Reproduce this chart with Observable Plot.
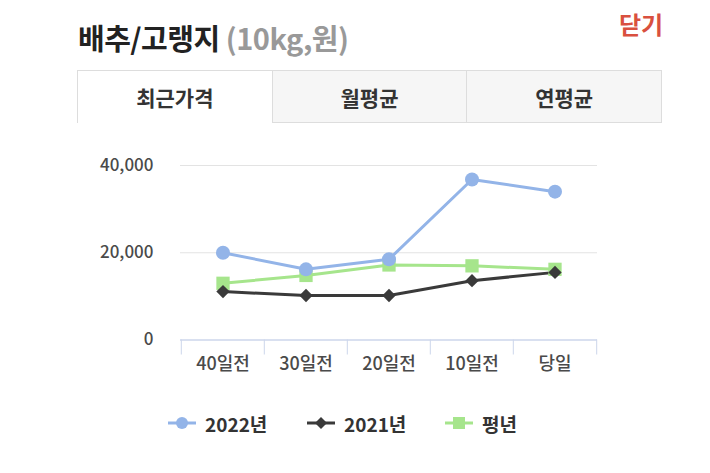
<!DOCTYPE html>
<html><head><meta charset="utf-8">
<script src="https://cdn.jsdelivr.net/npm/d3@7"></script>
<script src="https://cdn.jsdelivr.net/npm/@observablehq/plot@0.6"></script>
<style>
body{margin:0;background:#fff;font-family:"Noto Sans CJK KR","Noto Sans",sans-serif;}
#wrap{position:relative;width:710px;height:473px;overflow:hidden;}
#title{position:absolute;left:78px;top:17px;font-size:29px;line-height:40px;font-weight:700;color:#222;letter-spacing:-0.5px;}
#title span{color:#999;font-weight:700;}
#close{position:absolute;left:619px;top:6px;font-size:24px;line-height:36px;font-weight:700;color:#d9503f;}
#tabs{position:absolute;left:77px;top:70px;width:585px;height:52px;display:flex;border-top:1px solid #ddd;}
.tab{flex:1;display:flex;align-items:center;justify-content:center;font-size:21px;font-weight:700;color:#333;background:#f6f6f6;border-right:1px solid #ddd;border-bottom:1px solid #ddd;}
.tab.on{background:#fff;border-bottom:none;border-left:1px solid #ddd;}
#chart{position:absolute;left:0;top:130px;}
#legend{position:absolute;left:0;top:408px;width:710px;height:30px;}
.li{position:absolute;top:0;display:flex;align-items:center;height:30px;font-size:19px;font-weight:700;color:#333;}
.li svg{margin-right:9px;}
</style></head>
<body><div id="wrap">
<div id="title">배추/고랭지 <span>(10kg,원)</span></div>
<div id="close">닫기</div>
<div id="tabs"><div class="tab on">최근가격</div><div class="tab">월평균</div><div class="tab">연평균</div></div>
<div id="chart"></div>
<div id="legend"></div>
</div>
<script>
const categories = ["40일전","30일전","20일전","10일전","당일"];
const series = ["2022년","2021년","평년"];
const v2022 = [20000,16200,18500,36800,34000];
const v2021 = [11100,10200,10200,13600,15500];
const vNormal = [13000,14800,17200,17000,16200];
const yTicks = [0,20000,40000];
const colors = {"2022년":"#93b4e8","2021년":"#3a3a3a","평년":"#a6e58c"};
const symbols = {"2022년":"circle","2021년":"diamond2","평년":"square"};

const rows = [];
[v2022,v2021,vNormal].forEach((vals,si)=>vals.forEach((v,i)=>rows.push({cat:categories[i],series:series[si],value:v})));

const W=710,H=250,ML=180,MR=113;
const half=(W-ML-MR)/categories.length/2;
const plot = Plot.plot({
  width:W,height:H,marginLeft:ML,marginRight:MR,marginTop:35,marginBottom:40.5,
  style:{fontFamily:"'Noto Sans CJK KR','Noto Sans',sans-serif",fontSize:"17px",fontWeight:500,color:"#444",background:"transparent"},
  x:{type:"band",domain:categories,padding:0,label:null},
  y:{domain:[0,40000],label:null},
  marks:[
    Plot.gridY(yTicks.filter(d=>d>0),{stroke:"#e3e3e3",strokeOpacity:1,strokeWidth:1.2}),
    Plot.axisY(yTicks,{tickSize:0,tickPadding:27,tickFormat:d3.format(","),fontSize:17,fill:"#4a4a4a",label:null}),
    Plot.axisX({tickSize:0,tickPadding:17,fontSize:18,fill:"#4a4a4a",label:null}),
    Plot.axisX(categories,{tickSize:15,tickFormat:()=>"",stroke:"#ccd6eb",strokeOpacity:1,dx:-half,label:null}),
    Plot.axisX(categories.slice(-1),{tickSize:15,tickFormat:()=>"",stroke:"#ccd6eb",strokeOpacity:1,dx:half,label:null}),
    Plot.ruleY([0],{stroke:"#ccd6eb",strokeWidth:1.5}),
    ...["평년","2021년","2022년"].map(s=>Plot.line(rows.filter(r=>r.series===s),{x:"cat",y:"value",stroke:colors[s],strokeWidth:3})),
    ...["평년","2021년","2022년"].map(s=>Plot.dot(rows.filter(r=>r.series===s),{x:"cat",y:"value",fill:colors[s],stroke:"none",symbol:symbols[s],r:s==="평년"?7.5:(s==="2021년"?6:7)}))
  ]
});
document.getElementById("chart").appendChild(plot);

// legend
const leg = document.getElementById("legend");
const lx = {"2022년":168,"2021년":307,"평년":445};
series.forEach(s=>{
  const d=document.createElement("div");d.className="li";d.style.left=lx[s]+"px";
  const sym = symbols[s];
  let m="";
  if(sym==="circle") m=`<circle cx="14" cy="15" r="6" fill="${colors[s]}"/>`;
  else if(sym==="diamond2") m=`<path d="M14,9L20,15L14,21L8,15Z" fill="${colors[s]}"/>`;
  else m=`<rect x="8" y="9" width="12" height="12" fill="${colors[s]}"/>`;
  d.innerHTML=`<svg width="28" height="30"><line x1="0" x2="28" y1="15" y2="15" stroke="${colors[s]}" stroke-width="3"/>${m}</svg>${s}`;
  leg.appendChild(d);
});
</script>
</body></html>
